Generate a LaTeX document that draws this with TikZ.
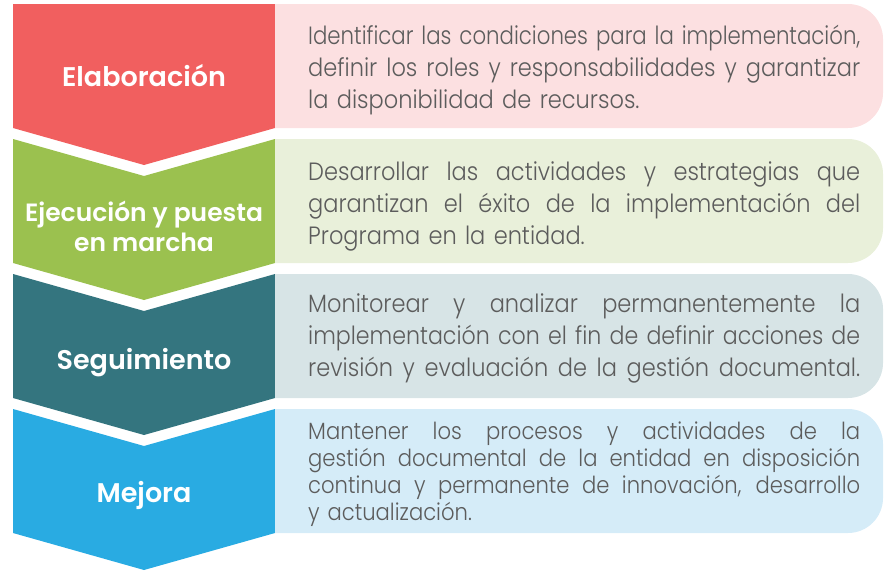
\documentclass[tikz,border=0pt]{standalone}
\usepackage{fontspec}
\usepackage{graphicx}
\setmainfont{Poppins}[UprightFont=* Light, BoldFont=* SemiBold]
\newfontfamily\bodyfont{Poppins}[UprightFont=* Light, FakeStretch=0.9]
\usepackage{tikz}

\definecolor{elabred}{HTML}{F15F5F}
\definecolor{elabpale}{HTML}{FCE0E1}
\definecolor{ejecgreen}{HTML}{9BC14F}
\definecolor{ejecpale}{HTML}{E9F0DA}
\definecolor{seguteal}{HTML}{34757F}
\definecolor{segupale}{HTML}{D7E4E6}
\definecolor{mejoblue}{HTML}{29ABE2}
\definecolor{mejopale}{HTML}{D5ECF8}
\definecolor{textgray}{HTML}{5C5C5C}

% one justified line of 552pt, squeezed when it is too long
\newsavebox\jbox
\newcommand\jline[1]{\sbox\jbox{#1}\ifdim\wd\jbox>552pt \resizebox{552pt}{\height}{\usebox\jbox}\else\makebox[552pt][s]{\spaceskip=0.25em plus 1fil\relax #1}\fi}

\begin{document}
\begin{tikzpicture}[x=1pt,y=-1pt,
    stagelabel/.style={text=white, font=\bfseries\fontsize{27}{30}\selectfont, align=center, inner sep=0pt},
    stagetext/.style={text=textgray, font=\bodyfont\fontsize{25}{32}\selectfont, text width=552pt, align=left, inner sep=0pt, anchor=west}]
        \def\xl{13}
        \def\xm{144}
        \def\xr{275}
        \def\xe{883}
        \def\h{124}
        \def\tip{37}
        \useasboundingbox (0,0) rectangle (885,570);
        % chevrons and pale boxes
        \foreach \t/\n/\dark/\pale in {4/0/elabred/elabpale, 139/37/ejecgreen/ejecpale, 274/37/seguteal/segupale, 409/37/mejoblue/mejopale}{
            \fill[\dark] (\xl,\t) -- (\xm,\t+\n) -- (\xr,\t) -- (\xr,\t+\h) -- (\xm,\t+\h+\tip) -- (\xl,\t+\h) -- cycle;
            \begin{scope}
                \clip (\xr,\t) rectangle (\xe+2,\t+\h);
                \fill[\pale, rounded corners=35pt] (\xr-60,\t) rectangle (\xe,\t+\h);
            \end{scope}
        }
        \node[stagelabel] (elab) at (\xm,76) {Elaboración};
        \node[stagelabel, font=\bfseries\fontsize{25}{30}\selectfont] (ejec) at (\xm,226) {Ejecución y puesta\\en marcha};
        \node[stagelabel] (segu) at (\xm,363) {Seguimiento};
        \node[stagelabel] (mejo) at (\xm,495) {Mejora};
        \node[stagetext] (elabtxt) at (308,70) {\jline{Identificar las condiciones para la implementación,}\\\jline{definir los roles y responsabilidades y garantizar}\\la disponibilidad de recursos.};
        \node[stagetext] (ejectxt) at (308,206) {\jline{Desarrollar las actividades y estrategias que}\\\jline{garantizan el éxito de la implementación del}\\Programa en la entidad.};
        \node[stagetext] (segutxt) at (308,338) {\jline{Monitorear y analizar permanentemente la}\\\jline{implementación con el fin de definir acciones de}\\\jline{revisión y evaluación de la gestión documental.}};
        \node[stagetext, font=\bodyfont\fontsize{23.5}{27}\selectfont] (mejotxt) at (308,474) {\jline{Mantener los procesos y actividades de la}\\\jline{gestión documental de la entidad en disposición}\\\jline{continua y permanente de innovación, desarrollo}\\y actualización.};
    \end{tikzpicture}
\end{document}
